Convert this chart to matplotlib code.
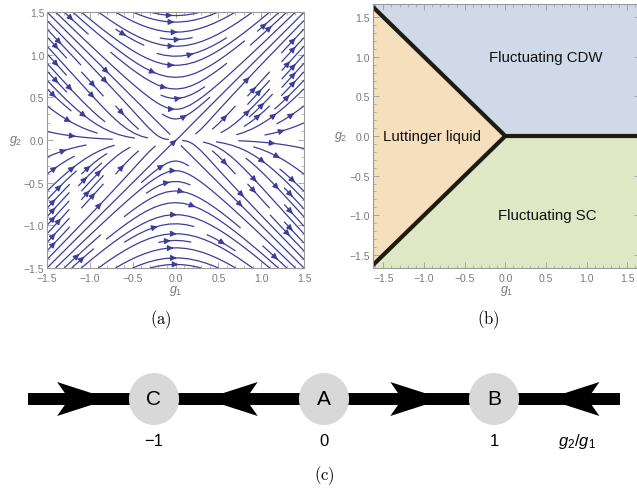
import numpy as np
import matplotlib
matplotlib.use('Agg')
import matplotlib.pyplot as plt
from matplotlib.patches import Ellipse, Polygon
from matplotlib.ticker import MultipleLocator

plt.rcParams['font.family'] = ['Liberation Sans', 'DejaVu Sans']
plt.rcParams['mathtext.fontset'] = 'custom'
plt.rcParams['mathtext.rm'] = 'Liberation Sans'
plt.rcParams['mathtext.it'] = 'Liberation Sans:italic'

# (a) RG flow: dg1/dl = a*g1^2 + b*g2^2, dg2/dl = c*g1*g2
flow_a = 0.4
flow_b = 1.0
flow_c = flow_a + flow_b

# (b) phase diagram, boundary vertices along g1
boundary_g1 = [-1.7, 0.0, 1.7]
phase_names = ["Fluctuating CDW", "Luttinger liquid", "Fluctuating SC"]
phase_colors = ["#cfd9e8", "#f5dfbd", "#e0e7c5"]
phase_label_g1 = [0.5, -0.9, 0.52]
phase_label_g2 = [1.0, 0.0, -1.0]

# (c) fixed points of g2/g1 and flow arrows between them
fp_names = ["C", "A", "B"]
fp_values = [-1, 0, 1]
fp_ticks = ["\u22121", "0", "1"]
arrow_tips = [-1.26, -0.70, 0.70, 1.31]
arrow_dirs = [1, -1, 1, -1]

STREAM = '#3d3d99'
FRAME = '#9a9a9a'
TICKTXT = '#7a7a7a'


def mma_frame(ax):
    for sp in ax.spines.values():
        sp.set_color(FRAME)
        sp.set_linewidth(0.8)
    ax.xaxis.set_major_locator(MultipleLocator(0.5))
    ax.yaxis.set_major_locator(MultipleLocator(0.5))
    ax.xaxis.set_minor_locator(MultipleLocator(0.1))
    ax.yaxis.set_minor_locator(MultipleLocator(0.1))
    ax.tick_params(which='both', direction='in', top=True, right=True,
                   color=FRAME, labelcolor=TICKTXT, labelsize=7.5, pad=2)
    ax.tick_params(axis='x', which='both', pad=3.5)
    ax.tick_params(which='major', length=4, width=0.6)
    ax.tick_params(which='minor', length=2, width=0.5)
    fmt = lambda v, p: ('%.1f' % v).replace('-', '\u2212')
    ax.xaxis.set_major_formatter(fmt)
    ax.yaxis.set_major_formatter(fmt)


fig = plt.figure(figsize=(6.37, 4.89), dpi=100)

# ---- (a) stream plot
ax_a = fig.add_axes([47 / 637, 1 - 269 / 489, 257 / 637, 256 / 489])
g = np.linspace(-1.5, 1.5, 151)
G1, G2 = np.meshgrid(g, g)
U = flow_a * G1 ** 2 + flow_b * G2 ** 2
V = flow_c * G1 * G2
stream_kw = dict(density=1.05, color=STREAM, linewidth=0.9, arrowsize=0.85)
try:
    ax_a.streamplot(G1, G2, U, V, num_arrows=3, **stream_kw)
except TypeError:
    ax_a.streamplot(G1, G2, U, V, **stream_kw)
ax_a.set_xlim(-1.5, 1.5)
ax_a.set_ylim(-1.5, 1.5)
mma_frame(ax_a)
ax_a.set_xlabel(r'$g_1$', color=TICKTXT, fontsize=9, labelpad=0)
ax_a.set_ylabel(r'$g_2$', color=TICKTXT, fontsize=9, rotation=0, labelpad=6,
                va='center')

# ---- (b) phase diagram
ax_b = fig.add_axes([372.7 / 637, 1 - 269 / 489, 267.3 / 637, 264 / 489])
bx = np.array(boundary_g1)
upper = np.maximum(-bx, 0)
lower = np.minimum(bx, 0)
ax_b.fill_between(bx, upper, 2, color=phase_colors[0], lw=0)
ax_b.fill_between(bx, lower, upper, color=phase_colors[1], lw=0)
ax_b.fill_between(bx, -2, lower, color=phase_colors[2], lw=0)
ax_b.plot(bx, upper, color='#1c1c14', lw=3, solid_capstyle='butt')
ax_b.plot(bx[:2], lower[:2], color='#1c1c14', lw=3, solid_capstyle='butt')
for name, x, y in zip(phase_names, phase_label_g1, phase_label_g2):
    ax_b.text(x, y, name, fontsize=10.8, ha='center', va='center', color='#111111')
ax_b.set_xlim(-1.631, 1.656)
ax_b.set_ylim(-1.665, 1.665)
mma_frame(ax_b)
ax_b.set_xlabel(r'$g_1$', color=TICKTXT, fontsize=9, labelpad=0)
ax_b.set_ylabel(r'$g_2$', color=TICKTXT, fontsize=9, rotation=0, labelpad=6,
                va='center')

# ---- (c) flow along g2/g1
ax_c = fig.add_axes([0, 1 - 430 / 489, 1, 60 / 489])
ax_c.set_xlim(-324 / 170, 313 / 170)
ax_c.set_ylim(-30, 30)
ax_c.axis('off')
ax_c.plot([-1.74, 1.74], [0, 0], color='black', lw=8.6, solid_capstyle='butt',
          zorder=1)
head_len, head_notch, head_half = 0.31, 0.24, 17
for tip, d in zip(arrow_tips, arrow_dirs):
    pts = [(tip, 0), (tip - d * head_len, head_half),
           (tip - d * head_notch, 0), (tip - d * head_len, -head_half)]
    ax_c.add_patch(Polygon(pts, closed=True, color='black', lw=0, zorder=2))
for name, v in zip(fp_names, fp_values):
    ax_c.add_patch(Ellipse((v, 0), 0.295, 52, color='#d8d8d8', lw=0, zorder=3))
    ax_c.text(v, 0, name, fontsize=15, ha='center', va='center', zorder=4)

for lab, v in zip(fp_ticks, fp_values):
    fig.text((324 + 170 * v) / 637, 1 - 442 / 489, lab, fontsize=12,
             ha='center', va='center')
fig.text(577 / 637, 1 - 442 / 489, r'$g_2/g_1$', fontsize=12,
         ha='center', va='center')

for lab, x, y in [('(a)', 160.8, 320), ('(b)', 488.3, 320), ('(c)', 324, 476)]:
    fig.text(x / 637, 1 - y / 489, r'$\mathrm{%s}$' % lab, fontsize=12,
             ha='center', va='center', math_fontfamily='cm')

fig.savefig('out.png', dpi=100)
